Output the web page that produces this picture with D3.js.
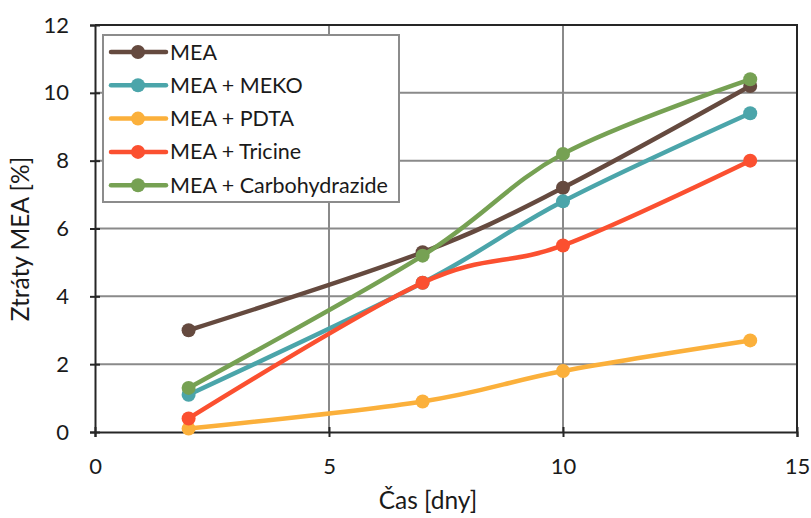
<!DOCTYPE html>
<html>
<head>
<meta charset="utf-8">
<script src="https://cdn.jsdelivr.net/npm/d3@7"></script>
<style>
  html, body { margin: 0; padding: 0; background: #fff; }
  svg text { font-family: Lato, "Open Sans", sans-serif; fill: #1a1a1a; }
</style>
</head>
<body>
<svg id="chart" width="811" height="518"></svg>
<script>
// Sampling days
const days = [2, 7, 10, 14];

// MEA losses [%] per series
const seriesNames = ["MEA", "MEA + MEKO", "MEA + PDTA", "MEA + Tricine", "MEA + Carbohydrazide"];
const valuesMEA    = [3.0, 5.3, 7.2, 10.2];
const valuesMEKO   = [1.1, 4.4, 6.8, 9.4];
const valuesPDTA   = [0.1, 0.9, 1.8, 2.7];
const valuesTricine = [0.4, 4.4, 5.5, 8.0];
const valuesCarbo  = [1.3, 5.2, 8.2, 10.4];
const seriesColors = ["#654a3f", "#4ba5aa", "#fbb03b", "#fb5030", "#76a153"];

const xTicks = [0, 5, 10, 15];
const yTicks = [0, 2, 4, 6, 8, 10, 12];

const allValues = [valuesMEA, valuesMEKO, valuesPDTA, valuesTricine, valuesCarbo];
const series = seriesNames.map((name, i) => ({
  name, color: seriesColors[i],
  points: days.map((d, j) => ({ x: d, y: allValues[i][j] }))
}));

const svg = d3.select("#chart");
const plotL = 95, plotR = 797, plotT = 25, plotB = 432;

const x = d3.scaleLinear().domain([0, 15]).range([plotL, plotR]);
const y = d3.scaleLinear().domain([0, 12]).range([plotB, plotT]);

// Gridlines
const grid = svg.append("g");
grid.selectAll(".hg").data(yTicks.filter(t => t > 0 && t < 12)).join("line")
  .attr("x1", plotL).attr("x2", plotR)
  .attr("y1", d => y(d)).attr("y2", d => y(d))
  .attr("stroke", "#8a8a8a").attr("stroke-width", 2);
grid.selectAll(".vg").data(xTicks.filter(t => t > 0 && t < 15)).join("line")
  .attr("y1", plotT).attr("y2", plotB)
  .attr("x1", d => x(d)).attr("x2", d => x(d))
  .attr("stroke", "#8a8a8a").attr("stroke-width", 2);

// Plot frame (top and right edges)
svg.append("path")
  .attr("d", `M${plotL},${plotT}H${plotR}V${plotB}`)
  .attr("fill", "none").attr("stroke", "#262626").attr("stroke-width", 2);

// Axes with crossing ticks
const xAxis = svg.append("g").attr("transform", `translate(0,${plotB})`)
  .call(d3.axisBottom(x).tickValues(xTicks).tickSize(5).tickPadding(21));
const yAxis = svg.append("g").attr("transform", `translate(${plotL},0)`)
  .call(d3.axisLeft(y).tickValues(yTicks).tickSize(5).tickPadding(21));
[xAxis, yAxis].forEach(g => {
  g.select(".domain").attr("stroke", "#262626").attr("stroke-width", 2);
  g.selectAll(".tick line").attr("stroke", "#262626").attr("stroke-width", 2);
  g.selectAll("text").attr("font-size", 22).attr("font-family", "Lato, sans-serif").attr("fill", "#1a1a1a");
});
xAxis.selectAll(".tick line").attr("y1", -5);
yAxis.selectAll(".tick line").attr("x1", 5);

// Axis titles
svg.append("text").attr("x", 428).attr("y", 509)
  .attr("text-anchor", "middle").attr("font-size", 24.5).text("Čas [dny]");
svg.append("text").attr("transform", "translate(29,239) rotate(-90)")
  .attr("text-anchor", "middle").attr("font-size", 24.5).text("Ztráty MEA [%]");

// Smoothed series lines with markers
const line = d3.line().x(d => x(d.x)).y(d => y(d.y)).curve(d3.curveCatmullRom.alpha(0));
const sg = svg.append("g").selectAll("g").data(series).join("g");
sg.append("path").attr("d", d => line(d.points))
  .attr("fill", "none").attr("stroke", d => d.color)
  .attr("stroke-width", 4.5).attr("stroke-linecap", "round").attr("stroke-linejoin", "round");
sg.selectAll("circle").data(d => d.points.map(p => ({ ...p, color: d.color }))).join("circle")
  .attr("cx", d => x(d.x)).attr("cy", d => y(d.y)).attr("r", 7)
  .attr("fill", d => d.color);

// Legend
const lg = svg.append("g").attr("transform", "translate(103,35)");
lg.append("rect").attr("width", 296).attr("height", 167)
  .attr("fill", "#fff").attr("stroke", "#8c8c8c").attr("stroke-width", 2);
const items = lg.selectAll(".item").data(series).join("g")
  .attr("transform", (d, i) => `translate(0,${17 + i * 33.3})`);
items.append("line").attr("x1", 8).attr("x2", 63)
  .attr("stroke", d => d.color).attr("stroke-width", 4.5).attr("stroke-linecap", "round");
items.append("circle").attr("cx", 35).attr("r", 7).attr("fill", d => d.color);
items.append("text").attr("x", 67).attr("y", 7.5).attr("font-size", 21.5).text(d => d.name);
</script>
</body>
</html>
